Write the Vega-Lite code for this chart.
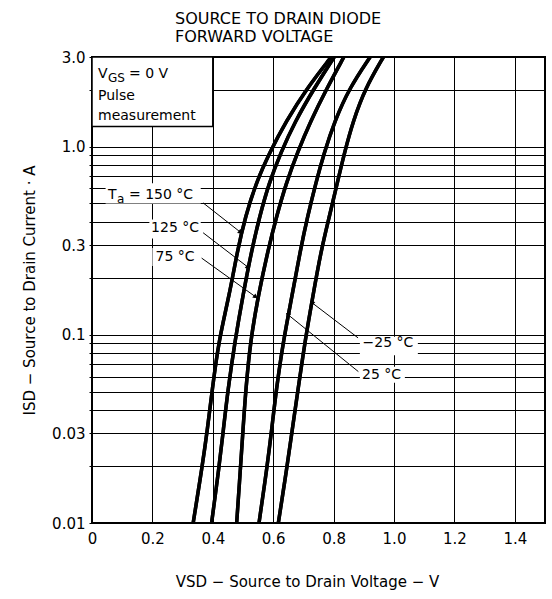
{
  "$schema": "https://vega.github.io/schema/vega-lite/v6.json",
  "autosize": {"type": "none"},
  "padding": {"left": 92, "top": 57, "right": 7, "bottom": 76},
  "width": 453,
  "height": 466,
  "background": "white",
  "title": {
    "text": ["SOURCE TO DRAIN DIODE", "FORWARD VOLTAGE"],
    "anchor": "start",
    "frame": "group",
    "dx": 83,
    "font": "DejaVu Sans",
    "fontSize": 16,
    "fontWeight": "normal",
    "color": "black",
    "lineHeight": 18,
    "offset": 5
  },
  "config": {
    "view": {"stroke": "black", "strokeWidth": 2},
    "font": "DejaVu Sans",
    "text": {"font": "DejaVu Sans", "color": "black"}
  },
  "datasets": {
    "curves": [
      {"T": "150", "V": 0.335, "I": 0.01},
      {"T": "150", "V": 0.365, "I": 0.02},
      {"T": "150", "V": 0.382, "I": 0.0313},
      {"T": "150", "V": 0.398, "I": 0.0509},
      {"T": "150", "V": 0.420, "I": 0.094},
      {"T": "150", "V": 0.455, "I": 0.163},
      {"T": "150", "V": 0.482, "I": 0.283},
      {"T": "150", "V": 0.508, "I": 0.426},
      {"T": "150", "V": 0.543, "I": 0.641},
      {"T": "150", "V": 0.588, "I": 0.93},
      {"T": "150", "V": 0.642, "I": 1.36},
      {"T": "150", "V": 0.712, "I": 2.05},
      {"T": "150", "V": 0.792, "I": 3.0},
      {"T": "125", "V": 0.396, "I": 0.01},
      {"T": "125", "V": 0.421, "I": 0.02},
      {"T": "125", "V": 0.435, "I": 0.0313},
      {"T": "125", "V": 0.450, "I": 0.0509},
      {"T": "125", "V": 0.474, "I": 0.094},
      {"T": "125", "V": 0.500, "I": 0.163},
      {"T": "125", "V": 0.529, "I": 0.283},
      {"T": "125", "V": 0.555, "I": 0.426},
      {"T": "125", "V": 0.586, "I": 0.641},
      {"T": "125", "V": 0.625, "I": 0.93},
      {"T": "125", "V": 0.672, "I": 1.36},
      {"T": "125", "V": 0.736, "I": 2.05},
      {"T": "125", "V": 0.802, "I": 3.0},
      {"T": "75", "V": 0.479, "I": 0.01},
      {"T": "75", "V": 0.492, "I": 0.02},
      {"T": "75", "V": 0.500, "I": 0.0313},
      {"T": "75", "V": 0.509, "I": 0.0509},
      {"T": "75", "V": 0.525, "I": 0.094},
      {"T": "75", "V": 0.551, "I": 0.163},
      {"T": "75", "V": 0.583, "I": 0.283},
      {"T": "75", "V": 0.611, "I": 0.426},
      {"T": "75", "V": 0.643, "I": 0.641},
      {"T": "75", "V": 0.680, "I": 0.93},
      {"T": "75", "V": 0.723, "I": 1.36},
      {"T": "75", "V": 0.778, "I": 2.05},
      {"T": "75", "V": 0.834, "I": 3.0},
      {"T": "25", "V": 0.553, "I": 0.01},
      {"T": "25", "V": 0.580, "I": 0.02},
      {"T": "25", "V": 0.595, "I": 0.0313},
      {"T": "25", "V": 0.610, "I": 0.0509},
      {"T": "25", "V": 0.634, "I": 0.094},
      {"T": "25", "V": 0.663, "I": 0.163},
      {"T": "25", "V": 0.690, "I": 0.283},
      {"T": "25", "V": 0.714, "I": 0.426},
      {"T": "25", "V": 0.741, "I": 0.641},
      {"T": "25", "V": 0.769, "I": 0.93},
      {"T": "25", "V": 0.803, "I": 1.36},
      {"T": "25", "V": 0.852, "I": 2.05},
      {"T": "25", "V": 0.921, "I": 3.0},
      {"T": "-25", "V": 0.617, "I": 0.01},
      {"T": "-25", "V": 0.646, "I": 0.02},
      {"T": "-25", "V": 0.663, "I": 0.0313},
      {"T": "-25", "V": 0.682, "I": 0.0509},
      {"T": "-25", "V": 0.706, "I": 0.094},
      {"T": "-25", "V": 0.732, "I": 0.163},
      {"T": "-25", "V": 0.759, "I": 0.283},
      {"T": "-25", "V": 0.786, "I": 0.426},
      {"T": "-25", "V": 0.812, "I": 0.641},
      {"T": "-25", "V": 0.836, "I": 0.93},
      {"T": "-25", "V": 0.864, "I": 1.36},
      {"T": "-25", "V": 0.905, "I": 2.05},
      {"T": "-25", "V": 0.965, "I": 3.0}
    ],
    "labelBoxes": [
      {"x1": 0.045, "x2": 0.36, "y1": 0.50, "y2": 0.64},
      {"x1": 0.19, "x2": 0.36, "y1": 0.325, "y2": 0.41},
      {"x1": 0.20, "x2": 0.36, "y1": 0.232, "y2": 0.29},
      {"x1": 0.887, "x2": 1.079, "y1": 0.078, "y2": 0.0977},
      {"x1": 0.887, "x2": 1.036, "y1": 0.0556, "y2": 0.0676}
    ],
    "legendBox": [
      {"x1": 0, "x2": 0.4, "y1": 1.28, "y2": 3.0}
    ],
    "leaders": [
      {"V1": 0.368, "I1": 0.503, "V2": 0.490, "I2": 0.353},
      {"V1": 0.368, "I1": 0.349, "V2": 0.515, "I2": 0.230},
      {"V1": 0.363, "I1": 0.256, "V2": 0.540, "I2": 0.160},
      {"V1": 0.881, "I1": 0.0964, "V2": 0.730, "I2": 0.1476},
      {"V1": 0.882, "I1": 0.0638, "V2": 0.650, "I2": 0.1277}
    ],
    "labels": [
      {"V": 0.275, "I": 0.371, "text": "125 °C"},
      {"V": 0.275, "I": 0.26, "text": "75 °C"},
      {"V": 0.98, "I": 0.0906, "text": "−25 °C"},
      {"V": 0.959, "I": 0.0612, "text": "25 °C"}
    ],
    "ta": [
      {"V": 0.053, "I": 0.556}
    ],
    "boxText": [
      {"V": 0.02, "I": 1.87, "text": "Pulse"},
      {"V": 0.02, "I": 1.46, "text": "measurement"}
    ],
    "vgs": [
      {"V": 0.02, "I": 2.44}
    ]
  },
  "layer": [
    {
      "data": {"name": "curves"},
      "mark": {"type": "line", "stroke": "black", "strokeWidth": 3.5, "interpolate": "basis", "clip": true},
      "encoding": {
        "x": {
          "field": "V", "type": "quantitative",
          "scale": {"domain": [0, 1.5], "nice": false, "zero": false},
          "axis": {
            "title": "VSD − Source to Drain Voltage − V",
            "titleFont": "DejaVu Sans", "titleFontSize": 15, "titleFontWeight": "normal", "titleColor": "black",
            "titlePadding": 28, "titleX": 215,
            "values": [0, 0.1, 0.2, 0.3, 0.4, 0.5, 0.6, 0.7, 0.8, 0.9, 1.0, 1.1, 1.2, 1.3, 1.4, 1.5],
            "labelExpr": "(round(datum.value*10)%2==0 && datum.value<1.45) ? (datum.value==0 ? '0' : format(datum.value,'.1f')) : ''",
            "labelFont": "DejaVu Sans", "labelFontSize": 15, "labelColor": "black",
            "labelPadding": 8, "labelOverlap": false, "labelFlush": false,
            "encode": {"labels": {"update": {"dx": {"signal": "1 - datum.value*14"}}}},
            "ticks": false, "domain": false,
            "grid": true, "gridColor": "black", "gridOpacity": 1, "gridWidth": 1
          }
        },
        "y": {
          "field": "I", "type": "quantitative",
          "scale": {"type": "log", "domain": [0.01, 3], "nice": false},
          "axis": {
            "title": "ISD − Source to Drain Current · A",
            "titleFont": "DejaVu Sans", "titleFontSize": 15, "titleFontWeight": "normal", "titleColor": "black",
            "titlePadding": 14,
            "values": [0.01, 0.02, 0.03, 0.04, 0.05, 0.06, 0.07, 0.08, 0.09, 0.1, 0.2, 0.3, 0.4, 0.5, 0.6, 0.7, 0.8, 0.9, 1, 2, 3],
            "labelExpr": "datum.value==0.01 ? '0.01' : datum.value==0.03 ? '0.03' : datum.value==0.1 ? '0.1' : datum.value==0.3 ? '0.3' : datum.value==1 ? '1.0' : datum.value==3 ? '3.0' : ''",
            "labelFont": "DejaVu Sans", "labelFontSize": 15, "labelColor": "black",
            "labelPadding": 4, "labelOverlap": false, "labelFlush": false,
            "ticks": true, "tickSize": 3, "tickColor": "black",
            "domain": false,
            "grid": true, "gridColor": "black", "gridOpacity": 1, "gridWidth": 1
          }
        },
        "detail": {"field": "T", "type": "nominal"}
      }
    },
    {
      "data": {"name": "labelBoxes"},
      "mark": {"type": "rect", "fill": "white", "stroke": null},
      "encoding": {
        "x": {"field": "x1", "type": "quantitative", "axis": {"title": "VSD − Source to Drain Voltage − V"}},
        "x2": {"field": "x2"},
        "y": {"field": "y1", "type": "quantitative", "scale": {"type": "log"}, "axis": {"title": "ISD − Source to Drain Current · A"}},
        "y2": {"field": "y2"}
      }
    },
    {
      "data": {"name": "legendBox"},
      "mark": {"type": "rect", "fill": "white", "stroke": "black", "strokeWidth": 1.5},
      "encoding": {
        "x": {"field": "x1", "type": "quantitative", "axis": {"title": "VSD − Source to Drain Voltage − V"}},
        "x2": {"field": "x2"},
        "y": {"field": "y1", "type": "quantitative", "scale": {"type": "log"}, "axis": {"title": "ISD − Source to Drain Current · A"}},
        "y2": {"field": "y2"}
      }
    },
    {
      "data": {"name": "leaders"},
      "mark": {"type": "rule", "stroke": "black", "strokeWidth": 1},
      "encoding": {
        "x": {"field": "V1", "type": "quantitative", "axis": {"title": "VSD − Source to Drain Voltage − V"}},
        "x2": {"field": "V2"},
        "y": {"field": "I1", "type": "quantitative", "scale": {"type": "log"}, "axis": {"title": "ISD − Source to Drain Current · A"}},
        "y2": {"field": "I2"}
      }
    },
    {
      "data": {"name": "leaders"},
      "transform": [{"filter": "datum.V1 < 0.5"}],
      "mark": {"type": "point", "shape": "triangle", "angle": 128, "size": 28, "filled": true, "color": "black", "opacity": 1},
      "encoding": {
        "x": {"field": "V2", "type": "quantitative", "axis": {"title": "VSD − Source to Drain Voltage − V"}},
        "y": {"field": "I2", "type": "quantitative", "scale": {"type": "log"}, "axis": {"title": "ISD − Source to Drain Current · A"}}
      }
    },
    {
      "data": {"name": "leaders"},
      "transform": [{"filter": "datum.V1 > 0.5"}],
      "mark": {"type": "point", "shape": "triangle", "angle": 309, "size": 28, "filled": true, "color": "black", "opacity": 1},
      "encoding": {
        "x": {"field": "V2", "type": "quantitative", "axis": {"title": "VSD − Source to Drain Voltage − V"}},
        "y": {"field": "I2", "type": "quantitative", "scale": {"type": "log"}, "axis": {"title": "ISD − Source to Drain Current · A"}}
      }
    },
    {
      "data": {"name": "curves"},
      "mark": {"type": "line", "stroke": "black", "strokeWidth": 3.5, "interpolate": "basis", "clip": true},
      "encoding": {
        "x": {"field": "V", "type": "quantitative", "axis": {"title": "VSD − Source to Drain Voltage − V"}},
        "y": {"field": "I", "type": "quantitative", "scale": {"type": "log"}, "axis": {"title": "ISD − Source to Drain Current · A"}},
        "detail": {"field": "T", "type": "nominal"}
      }
    },
    {
      "data": {"name": "labels"},
      "mark": {"type": "text", "fontSize": 14, "align": "center", "baseline": "middle", "color": "black"},
      "encoding": {
        "x": {"field": "V", "type": "quantitative", "axis": {"title": "VSD − Source to Drain Voltage − V"}},
        "y": {"field": "I", "type": "quantitative", "scale": {"type": "log"}, "axis": {"title": "ISD − Source to Drain Current · A"}},
        "text": {"field": "text"}
      }
    },
    {
      "data": {"name": "ta"},
      "mark": {"type": "text", "fontSize": 14, "align": "left", "baseline": "middle", "color": "black"},
      "encoding": {
        "x": {"field": "V", "type": "quantitative", "axis": {"title": "VSD − Source to Drain Voltage − V"}},
        "y": {"field": "I", "type": "quantitative", "scale": {"type": "log"}, "axis": {"title": "ISD − Source to Drain Current · A"}},
        "text": {"value": "T"}
      }
    },
    {
      "data": {"name": "ta"},
      "mark": {"type": "text", "fontSize": 12, "align": "left", "baseline": "middle", "dx": 9, "dy": 4, "color": "black"},
      "encoding": {
        "x": {"field": "V", "type": "quantitative", "axis": {"title": "VSD − Source to Drain Voltage − V"}},
        "y": {"field": "I", "type": "quantitative", "scale": {"type": "log"}, "axis": {"title": "ISD − Source to Drain Current · A"}},
        "text": {"value": "a"}
      }
    },
    {
      "data": {"name": "ta"},
      "mark": {"type": "text", "fontSize": 14, "align": "left", "baseline": "middle", "dx": 21, "color": "black"},
      "encoding": {
        "x": {"field": "V", "type": "quantitative", "axis": {"title": "VSD − Source to Drain Voltage − V"}},
        "y": {"field": "I", "type": "quantitative", "scale": {"type": "log"}, "axis": {"title": "ISD − Source to Drain Current · A"}},
        "text": {"value": "= 150 °C"}
      }
    },
    {
      "data": {"name": "boxText"},
      "mark": {"type": "text", "fontSize": 14, "align": "left", "baseline": "middle", "color": "black"},
      "encoding": {
        "x": {"field": "V", "type": "quantitative", "axis": {"title": "VSD − Source to Drain Voltage − V"}},
        "y": {"field": "I", "type": "quantitative", "scale": {"type": "log"}, "axis": {"title": "ISD − Source to Drain Current · A"}},
        "text": {"field": "text"}
      }
    },
    {
      "data": {"name": "vgs"},
      "mark": {"type": "text", "fontSize": 14, "align": "left", "baseline": "middle", "color": "black"},
      "encoding": {
        "x": {"field": "V", "type": "quantitative", "axis": {"title": "VSD − Source to Drain Voltage − V"}},
        "y": {"field": "I", "type": "quantitative", "scale": {"type": "log"}, "axis": {"title": "ISD − Source to Drain Current · A"}},
        "text": {"value": "V"}
      }
    },
    {
      "data": {"name": "vgs"},
      "mark": {"type": "text", "fontSize": 12, "align": "left", "baseline": "middle", "dx": 10, "dy": 4, "color": "black"},
      "encoding": {
        "x": {"field": "V", "type": "quantitative", "axis": {"title": "VSD − Source to Drain Voltage − V"}},
        "y": {"field": "I", "type": "quantitative", "scale": {"type": "log"}, "axis": {"title": "ISD − Source to Drain Current · A"}},
        "text": {"value": "GS"}
      }
    },
    {
      "data": {"name": "vgs"},
      "mark": {"type": "text", "fontSize": 14, "align": "left", "baseline": "middle", "dx": 31, "color": "black"},
      "encoding": {
        "x": {"field": "V", "type": "quantitative", "axis": {"title": "VSD − Source to Drain Voltage − V"}},
        "y": {"field": "I", "type": "quantitative", "scale": {"type": "log"}, "axis": {"title": "ISD − Source to Drain Current · A"}},
        "text": {"value": "= 0 V"}
      }
    }
  ]
}
